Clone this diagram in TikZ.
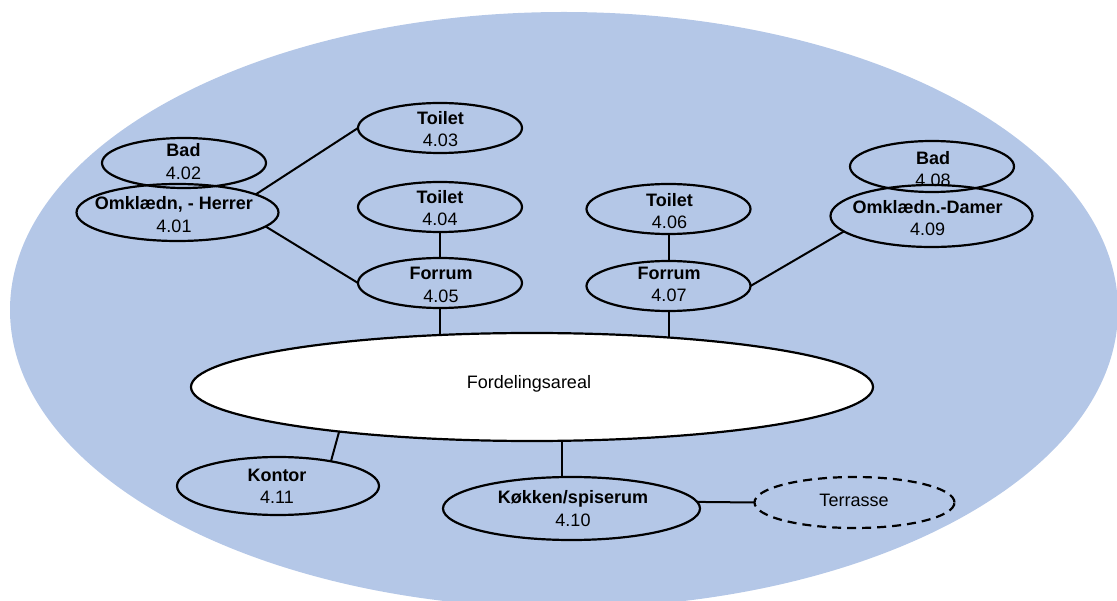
\documentclass[tikz,border=0pt]{standalone}
\usepackage{fontspec}
\setmainfont{Liberation Sans}
\usetikzlibrary{shapes.geometric}
\definecolor{bgblue}{RGB}{180,199,231}
\begin{document}
\begin{tikzpicture}[x=1pt,y=-1pt,
  room/.style={ellipse, draw=black, line width=2.2pt, inner sep=0pt, outer sep=0pt},
  lbl/.style={align=center, inner sep=0pt, font=\fontsize{18}{22.7}\selectfont},
  link/.style={draw=black, line width=2pt}]
\path[use as bounding box] (0,0) rectangle (1117,601);
\clip (0,0) rectangle (1117,601);
\fill[bgblue] (564,310) ellipse [x radius=554, y radius=298];

% rooms
\node[room, minimum width=164, minimum height=50] (b02) at (184,163) {};
\node[room, minimum width=202, minimum height=57] (h01) at (177.5,212.5) {};
\node[room, minimum width=164, minimum height=50] (t03) at (440,128) {};
\node[room, minimum width=164, minimum height=50] (t04) at (440,207) {};
\node[room, minimum width=164, minimum height=50] (f05) at (440,283) {};
\node[room, minimum width=164, minimum height=50] (t06) at (668.5,209) {};
\node[room, minimum width=164, minimum height=50] (f07) at (668.5,286) {};
\node[room, minimum width=164, minimum height=51] (b08) at (932,166.5) {};
\node[room, minimum width=202, minimum height=62] (d09) at (931.5,216) {};
\node[room, fill=white, minimum width=682, minimum height=108] (fa) at (532,387) {};
\node[room, minimum width=202, minimum height=58] (k11) at (278,486) {};
\node[room, minimum width=257, minimum height=63] (k10) at (571.5,508.5) {};
\node[room, dashed, dash pattern=on 9pt off 6pt, minimum width=200, minimum height=51] (te) at (854.5,502.5) {};

% labels
\node[lbl] (b02t) at (183.5,161.5) {\textbf{Bad}\\4.02};
\node[lbl] (h01t) at (174,214.5) {\textbf{Omklædn, - Herrer}\\4.01};
\node[lbl] (t03t) at (440.5,129) {\textbf{Toilet}\\4.03};
\node[lbl] (t04t) at (440,208.2) {\textbf{Toilet}\\4.04};
\node[lbl] (f05t) at (441,285) {\textbf{Forrum}\\4.05};
\node[lbl] (t06t) at (669.5,211) {\textbf{Toilet}\\4.06};
\node[lbl] (f07t) at (669,284.5) {\textbf{Forrum}\\4.07};
\node[lbl] (b08t) at (933,169) {\textbf{Bad}\\4.08};
\node[lbl] (d09t) at (927.7,218) {\textbf{Omklædn.-Damer}\\4.09};
\node[lbl] (k11t) at (277,486.3) {\textbf{Kontor}\\4.11};
\node[lbl] (k10t) at (573,508.3) {\textbf{Køkken/spiserum}\\4.10};
\node[lbl, anchor=base] (fat) at (529,389) {Fordelingsareal};
\node[lbl, anchor=base] (tet) at (854,506.7) {Terrasse};

% connectors
\draw[link] (h01.13) -- (t03.west);
\draw[link] (h01.-9) -- (f05.west);
\draw[link] (t04.south) -- (f05.north);
\draw[link] (f05.south) -- (f05.south |- fa.150);
\draw[link] (t06.south) -- (f07.north);
\draw[link] (f07.south) -- (f07.south |- fa.20);
\draw[link] (f07.east) -- (d09.190);
\draw[link] (fa.193) -- (k11.25);
\draw[link] (k10.107) -- (k10.107 |- fa.-61);
\draw[link] (k10.3) -- (te.west);
\end{tikzpicture}
\end{document}
